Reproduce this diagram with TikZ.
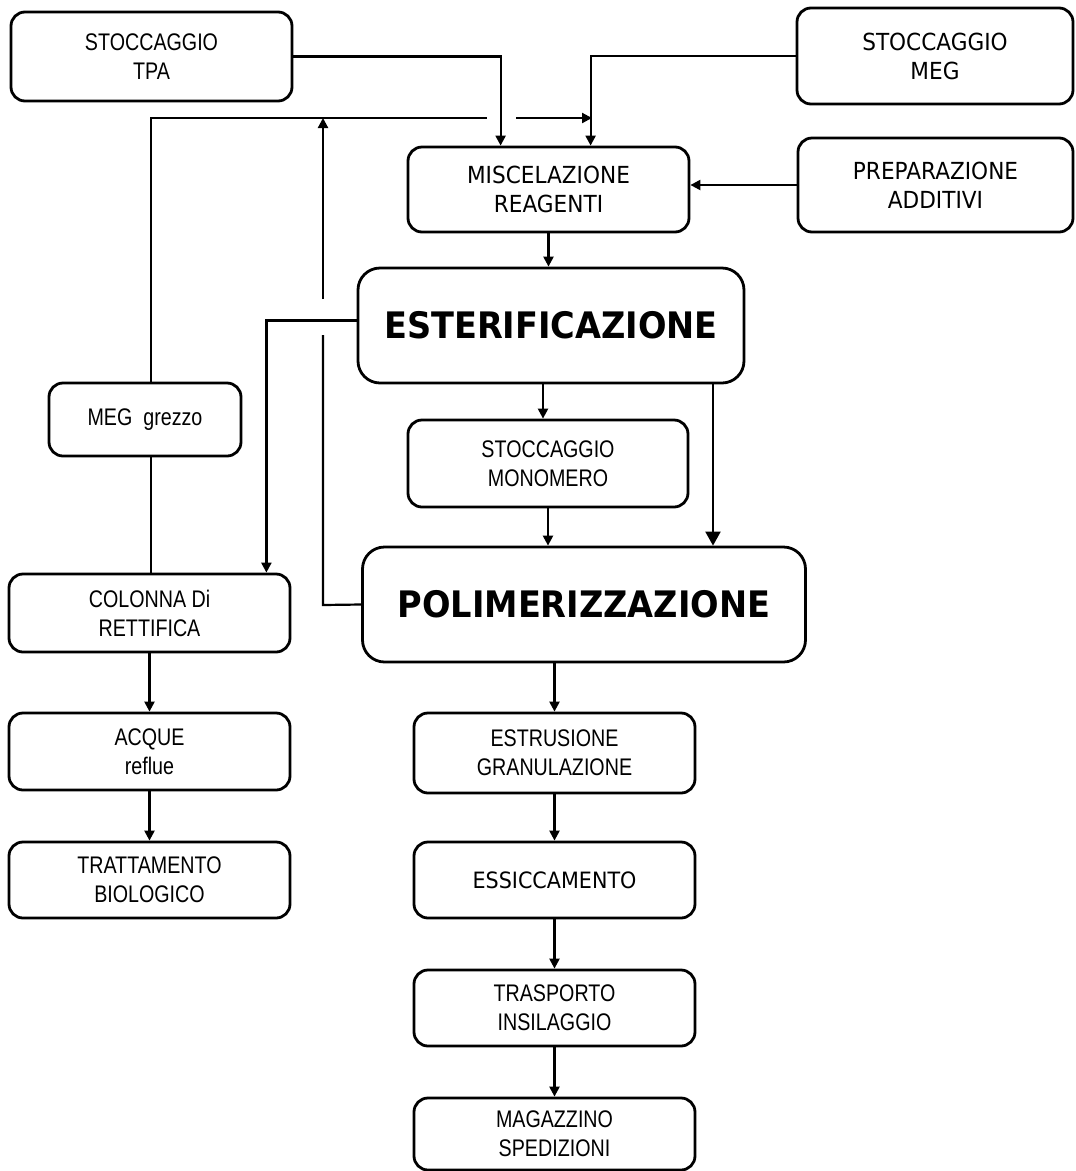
\documentclass[tikz,border=0pt]{standalone}
\usepackage{fontspec}
\newfontfamily\narrowfont[FakeStretch=0.82]{Liberation Sans}
\newfontfamily\widefont[FakeStretch=0.92]{DejaVu Sans}
\usetikzlibrary{arrows.meta}
\begin{document}
\begin{tikzpicture}[x=1pt,y=-1pt,
    box/.style 2 args={draw,line width=2.8pt,rounded corners=14pt,align=center,
      inner sep=0pt,minimum width=#1,minimum height=#2,
      font=\narrowfont\fontsize{24}{29}\selectfont},
    bigbox/.style 2 args={box={#1}{#2},rounded corners=22pt,
      font=\widefont\bfseries\fontsize{36.5}{40}\selectfont},
    wide/.style={font=\widefont\fontsize{23.5}{29}\selectfont},
    line/.style={line width=2.2pt},
    flow/.style={line,-{Triangle[length=10pt,width=10pt]}},
    bigflow/.style={line,-{Triangle[length=14pt,width=15pt]}}]
  \useasboundingbox (0,0) rectangle (1076,1171);

  % feed and preparation
  \node[box={281}{89}]            (tpa)   at (151.5,56.5) {STOCCAGGIO\\TPA};
  \node[box={276}{96},wide]       (meg)   at (935,56)     {STOCCAGGIO\\MEG};
  \node[box={275}{94},wide]       (add)   at (935.5,185)  {PREPARAZIONE\\ADDITIVI};
  \node[box={281}{85},wide]       (mix)   at (548.5,189.5) {MISCELAZIONE\\REAGENTI};

  % reaction
  \node[bigbox={386}{115}]        (ester) at (551,325.5)  {ESTERIFICAZIONE};
  \node[box={280}{87}]            (mono)  at (548,463.5)  {STOCCAGGIO\\MONOMERO};
  \node[bigbox={443}{115}]        (poly)  at (584,604.5)  {POLIMERIZZAZIONE};

  % glycol recovery and waste water
  \node[box={192}{73}]            (crude) at (145,419.5)  {MEG\ \ grezzo};
  \node[box={281}{78}]            (col)   at (149.5,613)  {COLONNA Di\\RETTIFICA};
  \node[box={281}{77}]            (water) at (149.5,751.5) {ACQUE\\reflue};
  \node[box={281}{76}]            (bio)   at (149.5,880)  {TRATTAMENTO\\BIOLOGICO};

  % finishing
  \node[box={281}{80}]            (extr)  at (554.5,753)  {ESTRUSIONE\\GRANULAZIONE};
  \node[box={281}{76},font=\widefont\fontsize{22.5}{28}\selectfont]
                                  (dry)   at (554.5,880)  {ESSICCAMENTO};
  \node[box={281}{76}]            (silo)  at (554.5,1008) {TRASPORTO\\INSILAGGIO};
  \node[box={281}{72}]            (store) at (554.5,1134) {MAGAZZINO\\SPEDIZIONI};

  % hops where lines cross
  \coordinate (hopL)  at (487,118);
  \coordinate (hopR)  at (516,118);
  \coordinate (megin) at (592,118);
  \coordinate (upA)   at (323,299);
  \coordinate (upB)   at (323,335);
  \coordinate (upC)   at (323,605);
  \coordinate (upTop) at (323,118);

  \draw[flow] (tpa.east) -| ([xshift=94]mix.north west);
  \draw[flow] (meg.west) -| ([xshift=184]mix.north west);
  \draw[flow] (add.west) -- (add.west -| mix.east);
  \draw[flow] (mix.south) -- (mix.south |- ester.north);

  \draw[line] ([xshift=6]crude.north) |- (hopL);   % MEG grezzo back to mixing
  \draw[flow] (hopR) -- (megin);
  \draw[line] (poly.west) -- (upC) -- (upB);        % vapours from poly
  \draw[flow] (upA) -- (upTop);

  \draw[flow] ([yshift=5]ester.west) -| ([xshift=-25]col.north east);
  \draw[line] ([xshift=6]crude.south) -- ([xshift=6]crude.south |- col.north);
  \draw[flow] (col.south) -- (water.north);
  \draw[flow] (water.south) -- (bio.north);

  \draw[flow] ([xshift=-8]ester.south) -- ([xshift=-8]ester.south |- mono.north);
  \draw[bigflow] ([xshift=162]ester.south) -- ([xshift=162]ester.south |- poly.north);
  \draw[flow] (mono.south) -- (mono.south |- poly.north);

  \draw[flow] (extr.north |- poly.south) -- (extr.north);
  \draw[flow] (extr.south) -- (dry.north);
  \draw[flow] (dry.south) -- (silo.north);
  \draw[flow] (silo.south) -- (store.north);
\end{tikzpicture}
\end{document}
